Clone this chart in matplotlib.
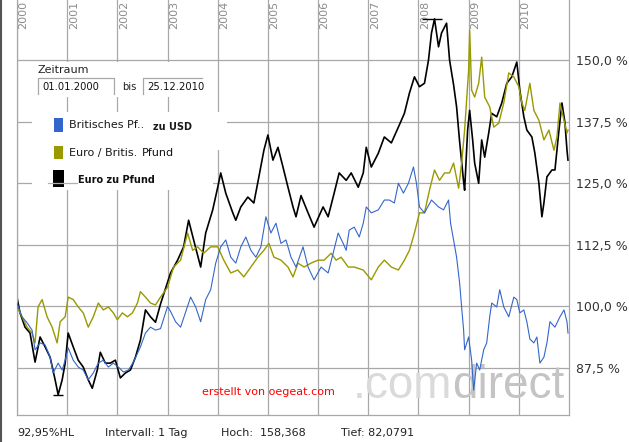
import numpy as np
import matplotlib
matplotlib.use('Agg')
import matplotlib.pyplot as plt
from matplotlib.patches import Rectangle
from matplotlib.lines import Line2D
from matplotlib.transforms import Affine2D, offset_copy

# --- data (years since 2000, percent of start value) ---
# Euro zu Pfund (black)
eur_gbp_t = [0.00, 0.06, 0.16, 0.26, 0.36, 0.46, 0.56, 0.66, 0.76, 0.82, 0.90, 0.96, 1.02, 1.12, 1.22,
             1.32, 1.42, 1.50, 1.60, 1.66, 1.76, 1.86, 1.96, 2.06, 2.16, 2.26, 2.36, 2.46, 2.56, 2.66,
             2.76, 2.86, 3.06, 3.20, 3.32, 3.42, 3.52, 3.66, 3.76, 3.90, 4.00, 4.06, 4.16, 4.30, 4.36,
             4.46, 4.60, 4.72, 4.82, 4.92, 5.00, 5.10, 5.20, 5.30, 5.40, 5.50, 5.56, 5.66, 5.80, 5.92,
             6.10, 6.20, 6.32, 6.42, 6.56, 6.66, 6.80, 6.90, 6.96, 7.06, 7.20, 7.32, 7.46, 7.60, 7.72,
             7.82, 7.92, 8.02, 8.12, 8.20, 8.26, 8.32, 8.40, 8.46, 8.56, 8.62, 8.70, 8.76, 8.82, 8.90,
             8.92, 8.98, 9.02, 9.08, 9.12, 9.20, 9.26, 9.32, 9.40, 9.46, 9.56, 9.66, 9.76, 9.86, 9.96,
             10.02, 10.10, 10.16, 10.26, 10.32, 10.40, 10.46, 10.50, 10.56, 10.66, 10.72, 10.80, 10.86,
             10.92, 10.96, 10.98]
eur_gbp = [101.9, 98.7, 95.8, 94.6, 88.7, 93.8, 91.8, 89.7, 85.1, 82.08, 85.1, 88.5, 94.6, 91.8, 89.1,
           87.7, 85.1, 83.4, 87.1, 90.7, 88.5, 88.5, 89.1, 85.5, 86.5, 87.1, 89.7, 93.2, 99.3, 97.9,
           96.8, 100.5, 106.8, 109.4, 112.1, 117.5, 113.5, 108.0, 114.9, 119.6, 124.2, 127.1, 123.0, 119.0, 117.5,
           120.2, 122.2, 121.0, 126.3, 131.7, 134.8, 129.7, 132.3, 128.3, 124.2, 120.2, 118.2, 122.5, 119.0, 116.1,
           120.2, 118.2, 123.0, 127.1, 125.6, 127.1, 124.2, 127.1, 132.3, 128.3, 131.1, 134.4, 133.2, 136.4, 139.2,
           143.3, 146.6, 144.6, 145.3, 150.0, 155.5, 158.368, 152.7, 155.5, 157.5, 150.0, 145.0, 140.5, 133.5, 125.3,
           123.6, 135.8, 139.8, 133.8, 129.1, 125.0, 133.8, 130.3, 135.2, 139.2, 138.5, 141.3, 145.3, 146.6, 149.6,
           143.9, 138.5, 135.8, 134.4, 131.1, 125.0, 118.2, 121.0, 126.3, 127.7, 127.7, 135.8, 141.3,
           137.2, 131.7, 129.7]

# Euro / Britis.Pfund (olive)
eur_pf_t = [0.00, 0.10, 0.20, 0.30, 0.36, 0.42, 0.50, 0.60, 0.70, 0.80, 0.86, 0.96, 1.02, 1.12, 1.22,
            1.32, 1.42, 1.52, 1.62, 1.72, 1.82, 1.92, 2.00, 2.10, 2.20, 2.30, 2.40, 2.46, 2.56, 2.66,
            2.76, 2.86, 3.00, 3.12, 3.26, 3.40, 3.50, 3.60, 3.72, 3.86, 4.00, 4.12, 4.26, 4.40, 4.52,
            4.66, 4.80, 4.92, 5.02, 5.12, 5.26, 5.40, 5.50, 5.60, 5.72, 5.86, 6.00, 6.12, 6.26, 6.36,
            6.46, 6.60, 6.72, 6.90, 7.06, 7.20, 7.32, 7.46, 7.60, 7.72, 7.82, 7.92, 8.02, 8.12, 8.22,
            8.32, 8.42, 8.52, 8.62, 8.70, 8.80, 8.86, 8.92, 9.00, 9.02, 9.06, 9.12, 9.20, 9.26, 9.32,
            9.42, 9.50, 9.60, 9.70, 9.80, 9.90, 10.00, 10.06, 10.12, 10.22, 10.30, 10.40, 10.50, 10.60,
            10.70, 10.76, 10.82, 10.90, 10.96, 10.98]
eur_pf = [99.9, 97.9, 95.8, 94.6, 92.6, 99.9, 101.4, 97.9, 95.8, 92.6, 96.9, 97.9, 101.9, 101.4, 99.9,
          98.7, 95.8, 97.9, 100.7, 99.3, 99.9, 98.7, 97.3, 98.7, 97.9, 98.7, 100.7, 103.0, 101.9, 100.7,
          100.3, 101.9, 103.9, 108.0, 109.4, 114.9, 111.4, 112.1, 110.8, 112.1, 112.1, 109.4, 106.8, 107.4, 106.0,
          108.0, 110.0, 111.4, 112.8, 110.0, 109.4, 108.0, 106.0, 108.8, 108.0, 108.8, 109.4, 109.4, 110.8, 109.4,
          110.0, 108.0, 108.0, 107.4, 105.4, 108.0, 109.4, 108.0, 107.4, 109.4, 111.4, 114.9, 119.0, 119.0, 123.6,
          127.7, 125.6, 127.1, 127.1, 129.1, 124.0, 129.1, 135.8, 148.0, 156.1, 143.9, 142.5, 145.3, 150.6, 142.5,
          140.5, 136.4, 137.2, 141.3, 147.4, 146.6, 144.6, 141.3, 139.8, 145.3, 139.8, 137.8, 133.8, 135.8,
          131.7, 134.4, 141.3, 137.8, 135.2, 135.8]

# Britisches Pfund zu USD (blue)
gbp_usd_t = [0.00, 0.10, 0.20, 0.30, 0.36, 0.46, 0.56, 0.66, 0.72, 0.82, 0.90, 0.96, 1.02, 1.12, 1.22,
             1.32, 1.42, 1.52, 1.62, 1.72, 1.82, 1.92, 2.02, 2.12, 2.22, 2.32, 2.46, 2.56, 2.66, 2.76,
             2.86, 3.00, 3.06, 3.16, 3.26, 3.46, 3.56, 3.66, 3.76, 3.86, 3.96, 4.06, 4.16, 4.26, 4.36,
             4.46, 4.56, 4.66, 4.76, 4.86, 4.96, 5.06, 5.16, 5.26, 5.36, 5.46, 5.56, 5.70, 5.80, 5.92,
             6.06, 6.20, 6.30, 6.40, 6.50, 6.56, 6.62, 6.72, 6.82, 6.90, 6.96, 7.06, 7.20, 7.32, 7.42,
             7.52, 7.60, 7.70, 7.80, 7.90, 7.96, 8.02, 8.12, 8.26, 8.40, 8.50, 8.60, 8.64, 8.70, 8.76,
             8.82, 8.86, 8.90, 8.92, 9.00, 9.06, 9.10, 9.16, 9.22, 9.30, 9.36, 9.42, 9.46, 9.56, 9.62,
             9.70, 9.80, 9.90, 9.96, 10.02, 10.10, 10.16, 10.22, 10.30, 10.36, 10.42, 10.50, 10.56, 10.62,
             10.72, 10.82, 10.90, 10.96, 10.98]
gbp_usd = [100.7, 97.9, 96.7, 95.2, 91.2, 92.6, 92.2, 89.7, 86.5, 88.5, 87.1, 89.1, 91.6, 89.1, 87.7,
           87.1, 85.1, 86.5, 88.5, 89.1, 87.7, 88.5, 87.7, 86.7, 87.1, 88.7, 91.8, 94.6, 95.8, 95.2,
           95.5, 100.0, 99.0, 96.9, 95.8, 101.9, 99.9, 96.9, 101.4, 103.4, 108.8, 112.1, 113.5, 110.0, 108.8,
           112.1, 114.1, 111.4, 110.0, 112.1, 118.2, 114.9, 116.9, 112.8, 113.5, 110.0, 108.0, 112.1, 108.0, 105.4,
           108.0, 106.8, 110.8, 114.9, 112.8, 111.4, 115.5, 116.1, 114.1, 116.9, 120.2, 119.0, 119.6, 121.6, 121.6,
           121.0, 125.0, 123.0, 125.0, 128.3, 125.0, 120.2, 119.0, 121.6, 120.2, 119.6, 121.6, 116.9, 113.5, 110.0,
           104.8, 99.9, 95.2, 91.2, 93.8, 89.1, 83.0, 88.5, 87.1, 91.2, 92.6, 97.9, 100.7, 99.9, 103.4,
           99.9, 97.9, 101.9, 101.4, 98.7, 99.3, 96.9, 93.4, 92.6, 93.8, 88.5, 89.7, 92.6, 96.9,
           95.8, 97.9, 99.3, 96.9, 94.6]

years = list(range(2000, 2011))
y_ticks = [87.5, 100.0, 112.5, 125.0, 137.5, 150.0]
legend_labels = ['Britisches Pf..', 'Euro / Britis.', 'Euro zu Pfund']
info_texts = ['92,95%HL', 'Intervall: 1 Tag', 'Hoch:  158,368', 'Tief: 82,0791']

blue = '#3366cc'
olive = '#999900'
gridc = '#a8a8a8'

W, H = 629, 442
fig = plt.figure(figsize=(W / 100, H / 100), dpi=100)
fig.patch.set_facecolor('white')
# pixel coords, origin top left (for the boxes and labels round the plot)
pix = Affine2D().scale(1, -1).translate(0, H)

ax = fig.add_axes([17 / W, 27 / H, 552 / W, 415 / H])
ax.set_xlim(2000, 2011)
ax.set_ylim(77.97, 162.2)
ax.set_xticks(years)
ax.set_yticks(y_ticks)
ax.grid(True, color=gridc, lw=0.9)
ax.set_axisbelow(True)
ax.tick_params(axis='x', length=0, labelbottom=False)
ax.yaxis.tick_right()
ax.tick_params(axis='y', length=0, pad=5, labelsize=9, labelcolor='#333333')
ax.set_yticklabels([('%.1f %%' % v).replace('.', ',') for v in y_ticks])
ax.spines['top'].set_visible(False)
for s in ['left', 'right', 'bottom']:
    ax.spines[s].set_color(gridc)
    ax.spines[s].set_linewidth(0.9)

# year labels at the top, rotated, just right of the grid line
ylab_tr = offset_copy(ax.get_xaxis_transform(), fig=fig, x=1.5, y=0, units='dots')
for yr in years:
    ax.text(yr, 1 - 1 / 415, str(yr), rotation=90, ha='left', va='top', fontsize=8,
            color='#8c8c8c', transform=ylab_tr, clip_on=False)

# watermark, above the grid but below the curves
ax.text(353, 398, '.com', transform=pix, fontsize=33, family='Liberation Sans',
        color='#dadada', zorder=1.5, va='baseline')
ax.text(452, 398, 'direct', transform=pix, fontsize=33, family='Liberation Sans',
        color='#c4c4c4', zorder=1.5, va='baseline')
ax.text(202, 392, 'erstellt von oegeat.com', transform=pix, fontsize=8, color='#ff0000',
        va='center', zorder=1.6)

t_black = 2000 + np.array(eur_gbp_t)
t_olive = 2000 + np.array(eur_pf_t)
t_blue = 2000 + np.array(gbp_usd_t)
ax.plot(t_black, eur_gbp, color='black', lw=1.2, zorder=2)
ax.plot(t_olive, eur_pf, color=olive, lw=1.0, zorder=3)
ax.plot(t_blue, gbp_usd, color=blue, lw=0.8, zorder=4)

# high / low markers on the black series
i_hi = int(np.argmax(eur_gbp))
i_lo = int(np.argmin(eur_gbp))
ax.hlines(eur_gbp[i_hi], t_black[i_hi] - 0.24, t_black[i_hi] + 0.14, color='black', lw=1, zorder=5)
ax.hlines(eur_gbp[i_lo], t_black[i_lo] - 0.1, t_black[i_lo] + 0.1, color='black', lw=1, zorder=5)

# --- Zeitraum panel and legend (white boxes over the grid) ---
def box(x0, y0, x1, y1, fc='white', z=6):
    fig.add_artist(Rectangle((x0, y0), x1 - x0, y1 - y0, transform=pix, facecolor=fc,
                             edgecolor='none', lw=0, zorder=z))

def seg(xs, ys, c=gridc, lw=0.9, z=7):
    fig.add_artist(Line2D(xs, ys, transform=pix, color=c, lw=lw, zorder=z))

box(32, 62, 210, 97)
box(32, 112, 227, 150)
box(32, 150, 213, 190)

fig.text(37, 70, 'Zeitraum', transform=pix, fontsize=8, color='#222222', va='center', zorder=8)
seg([38, 38, 114, 114], [94, 78, 78, 94])
seg([143, 143, 202], [94, 78, 78])
fig.text(42, 87, '01.01.2000', transform=pix, fontsize=7.2, color='#111111', va='center', zorder=8)
fig.text(122, 87, 'bis', transform=pix, fontsize=7.2, color='#222222', va='center', zorder=8)
fig.text(147, 87, '25.12.2010', transform=pix, fontsize=7.2, color='#111111', va='center', zorder=8)

box(54, 118, 63, 132, fc=blue, z=8)
box(54, 146, 63, 159, fc=olive, z=8)
box(53, 170, 64, 187, fc='black', z=8)
seg([48, 77], [183, 183], c='#b0b0b0', z=9)

fig.text(69, 125, legend_labels[0], transform=pix, fontsize=8, color='#1a1a1a', va='center', zorder=8)
fig.text(153, 127, 'zu USD', transform=pix, fontsize=7, weight='bold', color='#1a1a1a',
         va='center', zorder=8)
fig.text(69, 153, legend_labels[1], transform=pix, fontsize=8, color='#1a1a1a', va='center', zorder=8)
fig.text(142, 153, 'Pfund', transform=pix, fontsize=8, color='#111111', va='center', zorder=8)
fig.text(78, 180, legend_labels[2], transform=pix, fontsize=7, weight='bold', color='#111111',
         va='center', zorder=8)

# bottom info line
for x, s in zip([17, 105, 221, 341], info_texts):
    fig.text(x, 433, s, transform=pix, fontsize=8, color='#222222', va='center', zorder=8)

# dark frame line on the left edge
seg([0.8, 0.8], [0, H], c='#555555', lw=1.5, z=9)

fig.savefig('out.png', dpi=100, facecolor='white')
